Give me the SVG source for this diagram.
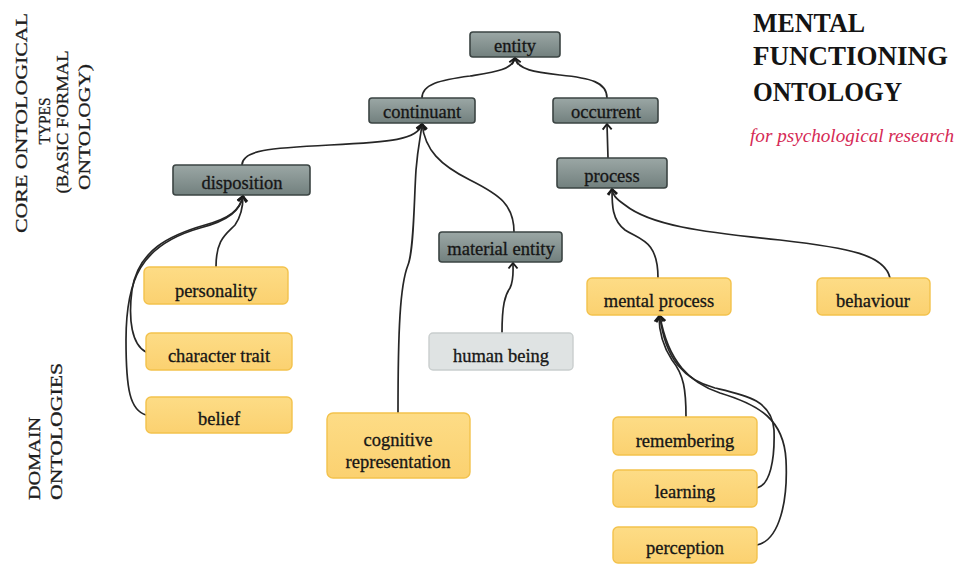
<svg xmlns="http://www.w3.org/2000/svg" width="963" height="565" viewBox="0 0 963 565">
  <defs>
    <linearGradient id="grayFill" x1="0" y1="0" x2="0" y2="1">
      <stop offset="0" stop-color="#9ba7a5"/>
      <stop offset="1" stop-color="#72807e"/>
    </linearGradient>
    <linearGradient id="yellowFill" x1="0" y1="0" x2="0" y2="1">
      <stop offset="0" stop-color="#fddc86"/>
      <stop offset="1" stop-color="#fbd170"/>
    </linearGradient>
    <marker id="arr" viewBox="-7 -6 9 12" refX="0" refY="0" markerWidth="9" markerHeight="12" orient="auto" markerUnits="userSpaceOnUse">
      <path d="M-5.5,-4.5 L0,0 L-5.5,4.5" fill="none" stroke="#1a1a1a" stroke-width="1.9" stroke-linejoin="round"/>
    </marker>
  </defs>
  <style>
    .core rect { fill: url(#grayFill); stroke: #3b4443; stroke-width: 1.6; }
    .dom rect { fill: url(#yellowFill); stroke: #f3c24c; stroke-width: 1.4; }
    .hb rect { fill: #dfe3e3; stroke: #c9cece; stroke-width: 1.4; }
    .lbl { font-family: "Liberation Serif", "Times New Roman", serif; font-size: 18.5px; fill: #161616; stroke: #161616; stroke-width: 0.3; text-anchor: middle; }
    .edges path { fill: none; stroke: #262626; stroke-width: 1.7; stroke-linecap: round; }
    .side { font-family: "Liberation Serif", "Times New Roman", serif; font-size: 17px; fill: #1e1e1e; stroke: #1e1e1e; stroke-width: 0.3; }
    .title { font-family: "Liberation Serif", "Times New Roman", serif; font-size: 27px; font-weight: bold; fill: #141414; }
    .sub { font-family: "Liberation Serif", "Times New Roman", serif; font-size: 19.5px; font-style: italic; fill: #d52a55; }
  </style>

  <rect width="963" height="565" fill="#ffffff"/>

  <!-- side captions -->
  <g id="caption-core">
    <text class="side" transform="translate(27,123) rotate(-90)" text-anchor="middle" textLength="220" lengthAdjust="spacingAndGlyphs">CORE ONTOLOGICAL</text>
    <text class="side" transform="translate(50,121) rotate(-90)" text-anchor="middle" font-size="15" textLength="47" lengthAdjust="spacingAndGlyphs">TYPES</text>
    <text class="side" transform="translate(68,122) rotate(-90)" text-anchor="middle" textLength="143" lengthAdjust="spacingAndGlyphs">(BASIC FORMAL</text>
    <text class="side" transform="translate(90,127) rotate(-90)" text-anchor="middle" textLength="126" lengthAdjust="spacingAndGlyphs">ONTOLOGY)</text>
  </g>
  <g id="caption-domain">
    <text class="side" transform="translate(40,500) rotate(-90)" textLength="83" lengthAdjust="spacingAndGlyphs">DOMAIN</text>
    <text class="side" transform="translate(62,500) rotate(-90)" textLength="137" lengthAdjust="spacingAndGlyphs">ONTOLOGIES</text>
  </g>

  <!-- title -->
  <g id="title">
    <text class="title" x="753" y="32" textLength="112" lengthAdjust="spacingAndGlyphs">MENTAL</text>
    <text class="title" x="753" y="65" textLength="195" lengthAdjust="spacingAndGlyphs">FUNCTIONING</text>
    <text class="title" x="753" y="101" textLength="149" lengthAdjust="spacingAndGlyphs">ONTOLOGY</text>
    <text class="sub" x="750" y="142" textLength="204" lengthAdjust="spacingAndGlyphs">for psychological research</text>
  </g>

  <!-- connectors (child to parent) -->
  <g id="connectors" class="edges">
    <path d="M422,98 C422,84 440,80 470,76 C495,72 512,70 515,58" marker-end="url(#arr)"/>
    <path d="M607,98 C607,82 590,78 560,75 C535,72 518,70 515,58" marker-end="url(#arr)"/>
    <path d="M242,165 C242,150 270,148 330,145 C390,142 418,140 422,124" marker-end="url(#arr)"/>
    <path d="M398,413 C398,330 400,285 408,265 C414,250 414,200 416,170 C418,145 421,135 422,124" marker-end="url(#arr)"/>
    <path d="M514,232 C514,205 500,195 470,180 C440,165 425,150 422,124" marker-end="url(#arr)"/>
    <path d="M608,158 L607,124" marker-end="url(#arr)"/>
    <path d="M216,267 C216,240 225,235 235,225 C242,215 243,205 243,196" marker-end="url(#arr)"/>
    <path d="M146,352 C132,345 128,320 132,290 C138,250 170,235 205,225 C230,218 240,210 243,196" marker-end="url(#arr)"/>
    <path d="M146,415 C130,410 126,390 126,340 C126,280 140,245 200,228 C230,220 240,210 243,196" marker-end="url(#arr)"/>
    <path d="M502,333 C502,305 505,295 510,288 C514,280 513,272 513,263" marker-end="url(#arr)"/>
    <path d="M658,278 C658,240 640,240 625,230 C612,220 612,205 612,189" marker-end="url(#arr)"/>
    <path d="M890,278 C885,255 850,248 780,240 C700,232 650,225 625,205 C615,198 613,195 612,189" marker-end="url(#arr)"/>
    <path d="M686,417 C686,390 684,375 672,360 C662,345 659,330 659,316" marker-end="url(#arr)"/>
    <path d="M757,488 C770,485 775,460 774,430 C772,400 745,395 715,388 C685,380 665,360 660,316" marker-end="url(#arr)"/>
    <path d="M757,545 C780,540 788,500 786,460 C784,420 760,405 720,393 C690,383 668,362 660,316" marker-end="url(#arr)"/>
  </g>

  <!-- core ontological types -->
  <g id="entity" class="core"><rect x="470" y="32" width="90" height="25" rx="3"/><text class="lbl" x="515" y="52">entity</text></g>
  <g id="continuant" class="core"><rect x="369" y="98" width="106" height="25" rx="3"/><text class="lbl" x="422" y="118">continuant</text></g>
  <g id="occurrent" class="core"><rect x="553" y="98" width="105" height="25" rx="3"/><text class="lbl" x="606" y="118">occurrent</text></g>
  <g id="disposition" class="core"><rect x="173" y="165" width="137" height="30" rx="3"/><text class="lbl" x="242" y="189">disposition</text></g>
  <g id="process" class="core"><rect x="557" y="158" width="110" height="30" rx="3"/><text class="lbl" x="612" y="182">process</text></g>
  <g id="material-entity" class="core"><rect x="439" y="232" width="123" height="30" rx="3"/><text class="lbl" x="501" y="255">material entity</text></g>

  <!-- domain ontologies -->
  <g id="personality" class="dom"><rect x="144" y="267" width="144" height="37" rx="5"/><text class="lbl" x="216" y="297">personality</text></g>
  <g id="character-trait" class="dom"><rect x="146" y="333" width="146" height="37" rx="5"/><text class="lbl" x="219" y="362">character trait</text></g>
  <g id="belief" class="dom"><rect x="146" y="397" width="146" height="36" rx="5"/><text class="lbl" x="219" y="425">belief</text></g>
  <g id="cognitive-representation" class="dom"><rect x="327" y="413" width="143" height="65" rx="6"/><text class="lbl" x="398" y="446">cognitive</text><text class="lbl" x="398" y="468">representation</text></g>
  <g id="human-being" class="hb"><rect x="429" y="333" width="144" height="37" rx="4"/><text class="lbl" x="501" y="362">human being</text></g>
  <g id="mental-process" class="dom"><rect x="587" y="278" width="144" height="37" rx="5"/><text class="lbl" x="659" y="307">mental process</text></g>
  <g id="behaviour" class="dom"><rect x="817" y="278" width="113" height="37" rx="5"/><text class="lbl" x="873" y="307">behaviour</text></g>
  <g id="remembering" class="dom"><rect x="613" y="417" width="144" height="38" rx="5"/><text class="lbl" x="685" y="447">remembering</text></g>
  <g id="learning" class="dom"><rect x="613" y="470" width="144" height="37" rx="5"/><text class="lbl" x="685" y="498">learning</text></g>
  <g id="perception" class="dom"><rect x="613" y="527" width="144" height="36" rx="5"/><text class="lbl" x="685" y="554">perception</text></g>
</svg>
